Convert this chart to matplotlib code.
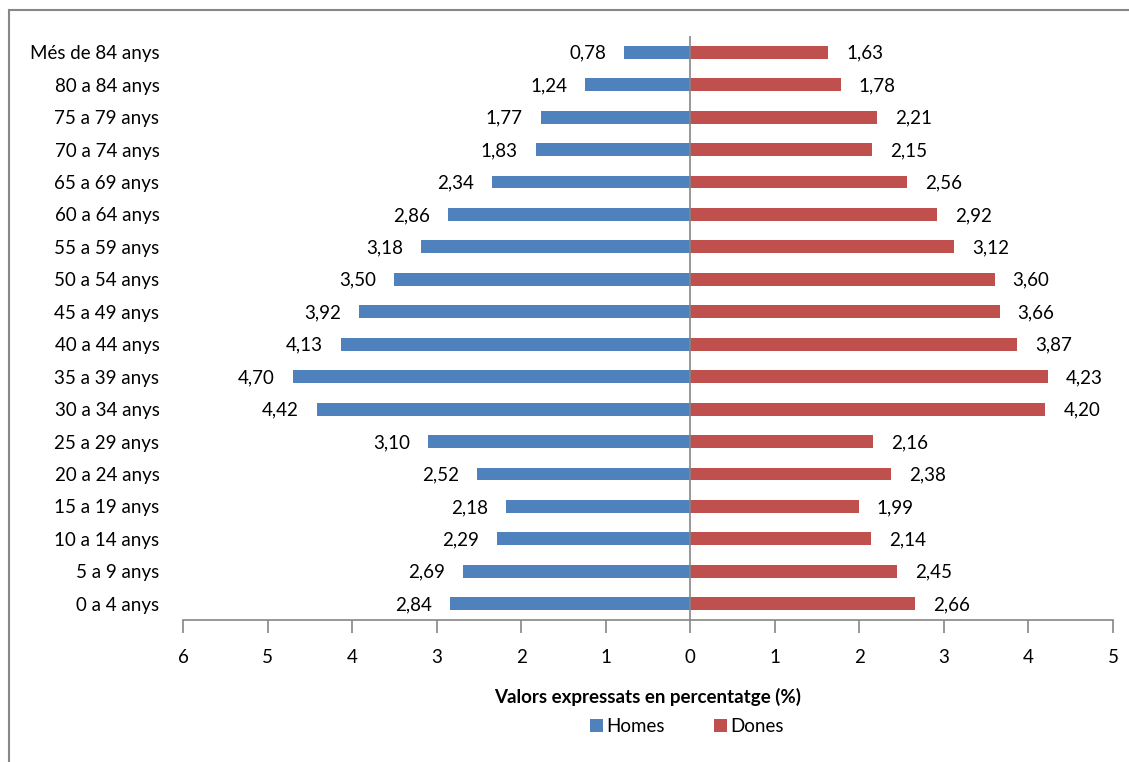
import matplotlib
matplotlib.use('Agg')
import matplotlib.pyplot as plt
from matplotlib.patches import Rectangle

plt.rcParams['font.family'] = ['Lato', 'DejaVu Sans']

# grupos de edad, de arriba abajo
categories = ['Més de 84 anys', '80 a 84 anys', '75 a 79 anys', '70 a 74 anys',
              '65 a 69 anys', '60 a 64 anys', '55 a 59 anys', '50 a 54 anys',
              '45 a 49 anys', '40 a 44 anys', '35 a 39 anys', '30 a 34 anys',
              '25 a 29 anys', '20 a 24 anys', '15 a 19 anys', '10 a 14 anys',
              '5 a 9 anys', '0 a 4 anys']
homes = [0.78, 1.24, 1.77, 1.83, 2.34, 2.86, 3.18, 3.50, 3.92, 4.13,
         4.70, 4.42, 3.10, 2.52, 2.18, 2.29, 2.69, 2.84]
dones = [1.63, 1.78, 2.21, 2.15, 2.56, 2.92, 3.12, 3.60, 3.66, 3.87,
         4.23, 4.20, 2.16, 2.38, 1.99, 2.14, 2.45, 2.66]
xticks = [-6, -5, -4, -3, -2, -1, 0, 1, 2, 3, 4, 5]

blue = '#4F81BD'
red = '#C0504D'
fs = 13.5

fig = plt.figure(figsize=(11.29, 7.62), dpi=100)
W, H = 1129, 762
ax = fig.add_axes([183/W, 1 - 620/H, (1113-183)/W, (620-36)/H])

# marco del gráfico
fig.patches.append(Rectangle((8.5/W, -0.1), 2, 1 - 10/H + 0.1, transform=fig.transFigure,
                             fill=False, edgecolor='#878787', linewidth=1.5))

n = len(categories)
ypos = [n - 1 - i for i in range(n)]
ax.barh(ypos, [-v for v in homes], height=0.4, color=blue, label='Homes')
ax.barh(ypos, dones, height=0.4, color=red, label='Dones')

for y, h, d in zip(ypos, homes, dones):
    ax.annotate(('%.2f' % h).replace('.', ','), xy=(-h, y), xytext=(-18, -1),
                textcoords='offset pixels', ha='right', va='center', fontsize=fs)
    ax.annotate(('%.2f' % d).replace('.', ','), xy=(d, y), xytext=(18, -1),
                textcoords='offset pixels', ha='left', va='center', fontsize=fs)

ax.axvline(0, color='#868686', linewidth=1.2)
ax.set_xlim(-6, 5)
ax.set_ylim(-0.5, n - 0.5)
ax.set_xticks(xticks)
ax.set_xticklabels([str(abs(t)) for t in xticks], fontsize=fs)
ax.set_yticks(ypos)
ax.set_yticklabels(categories, fontsize=fs)
ax.tick_params(axis='y', length=0, pad=17)
ax.tick_params(axis='x', direction='out', length=9, width=1.2, color='#868686', pad=12)
for s in ['top', 'right', 'left']:
    ax.spines[s].set_visible(False)
ax.spines['bottom'].set_color('#868686')
ax.spines['bottom'].set_linewidth(1.2)

ax.set_xlabel('Valors expressats en percentatge (%)', fontsize=fs, fontweight='bold', labelpad=16)
ax.legend(loc='upper center', bbox_to_anchor=((687-183)/930, -0.152), ncol=2, frameon=False,
          fontsize=fs, handlelength=0.7, handleheight=0.7, handletextpad=0.2, columnspacing=2.6,
          borderpad=0)

plt.savefig('out.png', dpi=100)
